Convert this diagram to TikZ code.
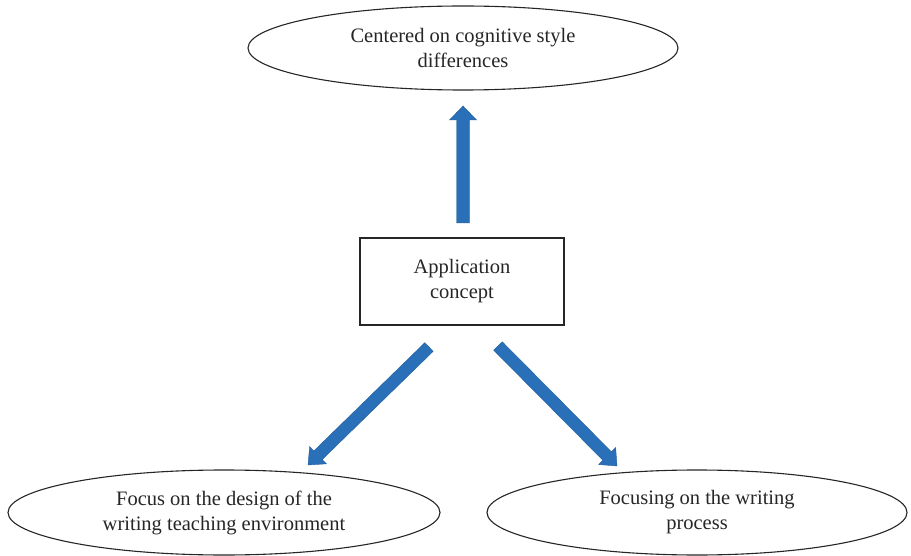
\documentclass[tikz,border=0pt]{standalone}
\usepackage{fontspec}
\setmainfont{Liberation Serif}
\usetikzlibrary{shapes.geometric,calc}

\definecolor{arrowblue}{HTML}{2A70B8}
\definecolor{arrowedge}{HTML}{225E9C}

\tikzset{
  label text/.style={align=center, font=\fontsize{20.5}{25}\selectfont, text=black!85},
  oval/.style={ellipse, draw=black!85, line width=1.1pt, inner sep=0pt, label text},
  conceptbox/.style={rectangle, draw=black!85, line width=1.1pt, inner sep=0pt, label text},
  blockfill/.style={fill=arrowblue, draw=arrowedge, line width=0.4pt, line join=miter}
}

% Block arrow: name, tail, tip, half shaft width, half head width, head length
\newcommand{\blockarrow}[6]{%
  \coordinate (#1-b) at ($(#3)!#6!(#2)$);
  \path[blockfill]
    ($(#2)!#4!90:(#3)$) -- ($(#1-b)!#4!90:(#3)$) -- ($(#1-b)!#5!90:(#3)$)
    -- (#3)
    -- ($(#1-b)!#5!-90:(#3)$) -- ($(#1-b)!#4!-90:(#3)$) -- ($(#2)!#4!-90:(#3)$)
    -- cycle;
}

\begin{document}
\begin{tikzpicture}[x=1pt, y=-1pt]
  \useasboundingbox (0,0) rectangle (911,556);

  % nodes
  \node[oval, minimum width=430pt, minimum height=84pt] (style) at (463,48)
    {Centered on cognitive style\\differences};
  \node[conceptbox, minimum width=204pt, minimum height=87pt] (concept) at (462,281.5)
    {Application\\concept};
  \node[oval, minimum width=432pt, minimum height=85pt] (env) at (224,512.5)
    {Focus on the design of the\\writing teaching environment};
  \node[oval, minimum width=420pt, minimum height=85pt] (proc) at (697,512.5)
    {Focusing on the writing\\process};

  % arrow end points
  \coordinate (upTail) at (463,223);
  \coordinate (upTip) at (463,106);
  \coordinate (leftTail) at (429,347);
  \coordinate (leftTip) at (308,465);
  \coordinate (rightTail) at (498,346);
  \coordinate (rightTip) at (617,466);

  % block arrows
  \blockarrow{up}{upTail}{upTip}{6.5pt}{13.5pt}{14pt}
  \blockarrow{left}{leftTail}{leftTip}{6pt}{12pt}{14pt}
  \blockarrow{right}{rightTail}{rightTip}{6pt}{12pt}{14pt}
\end{tikzpicture}
\end{document}
